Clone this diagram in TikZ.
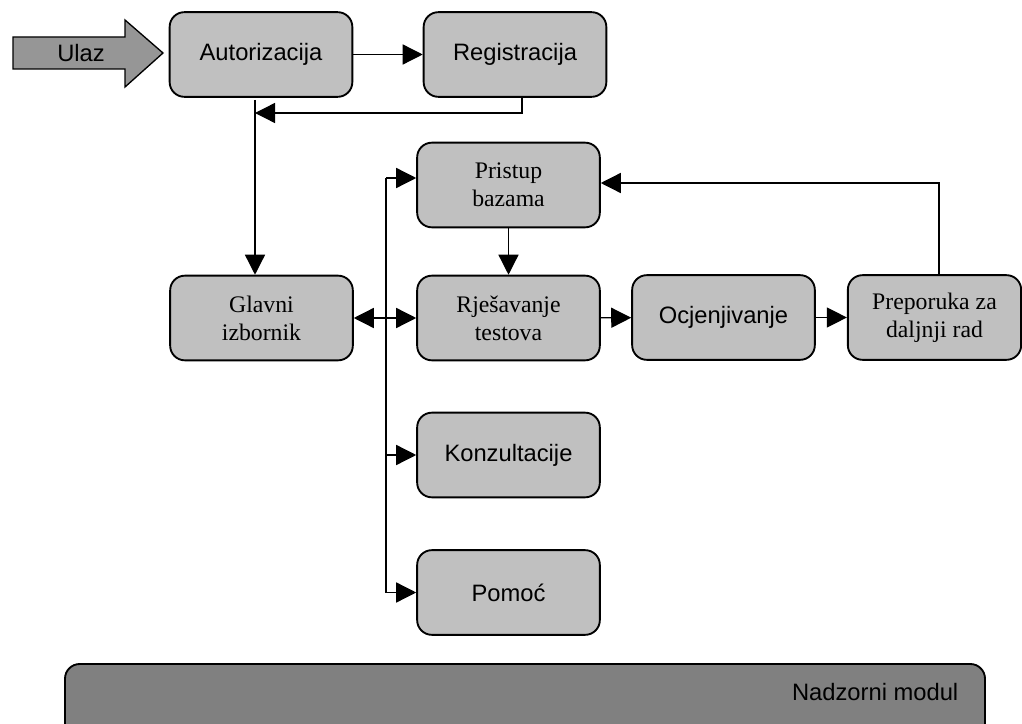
\documentclass[tikz,border=0pt]{standalone}
\usepackage{fontspec}
\setmainfont{Liberation Serif}
\setsansfont{Liberation Sans}
\usetikzlibrary{arrows.meta,calc}
\definecolor{boxgray}{HTML}{C0C0C0}
\definecolor{ulazgray}{HTML}{969696}
\definecolor{nadgray}{HTML}{808080}
\begin{document}
\begin{tikzpicture}[x=0.75pt,y=-0.75pt,
  box/.style={draw=black, line width=1.4pt, fill=boxgray, rounded corners=11pt,
    minimum width=137pt, minimum height=63.5pt, inner sep=2pt, align=center,
    font=\sffamily\fontsize{17.8}{21}\selectfont},
  serifbox/.style={box, font=\rmfamily\fontsize{17.8}{21}\selectfont},
  conn/.style={draw=black, line width=1pt},
  arr/.style={conn, -{Triangle[length=15pt,width=15pt]}}]
\useasboundingbox (0,0) rectangle (1022,724);

% Ulaz arrow
\draw[line width=1pt, fill=ulazgray] (13,37) -- (125,37) -- (125,20) -- (163,53) -- (125,87) -- (125,69) -- (13,69) -- cycle;
\node[font=\sffamily\fontsize{17.8}{21}\selectfont] (ulaz) at (81,53.5) {Ulaz};

% boxes
\node[box] (aut) at (261,54.5) {Autorizacija};
\node[box] (reg) at (515,54.5) {Registracija};
\node[serifbox] (pri) at (508.5,185) {Pristup\\bazama};
\node[serifbox] (gla) at (261.5,318) {Glavni\\izbornik};
\node[serifbox] (rje) at (508.5,318) {Rješavanje\\testova};
\node[box] (ocj) at (723.5,317.5) {Ocjenjivanje};
\node[serifbox, minimum width=130pt] (pre) at (934.5,317.5) {Preporuka za\\daljnji rad};
\node[box] (kon) at (508.5,455) {Konzultacije};
\node[box] (pom) at (508.5,592.5) {Pomoć};

% Nadzorni modul
\draw[line width=1.4pt, fill=nadgray, rounded corners=11pt] (65,664) rectangle (985,750);
\node[font=\sffamily\fontsize{17.8}{21}\selectfont, anchor=east] (nad) at (963,692) {Nadzorni modul};

% coordinates
\coordinate (fb) at (255,113);
\coordinate (vt) at (255,100);
\coordinate (rg) at (522,97);
\coordinate (bt) at (386,178);
\coordinate (bb) at (386,592.5);
\coordinate (lp) at (939,183);

% connectors
\draw[arr] (aut) -- (reg);
\draw[arr] (rg) |- (fb);
\draw[arr] (vt) -- (vt |- gla.north);
\draw[conn] (bt) -- (bb);
\draw[arr] (bt) -- (bt -| pri.west);
\draw[arr] (gla.east -| bt) -- (rje.west);
\draw[arr] (gla.east -| bt) -- (gla.east);
\draw[arr] (kon.west -| bt) -- (kon.west);
\draw[arr] (pom.west -| bt) -- (pom.west);
\draw[arr] (pri) -- (rje);
\draw[arr] (rje) -- (ocj);
\draw[arr] (ocj) -- (pre);
\draw[arr] (lp |- pre.north) |- (lp) -- (lp -| pri.east);
\end{tikzpicture}
\end{document}
